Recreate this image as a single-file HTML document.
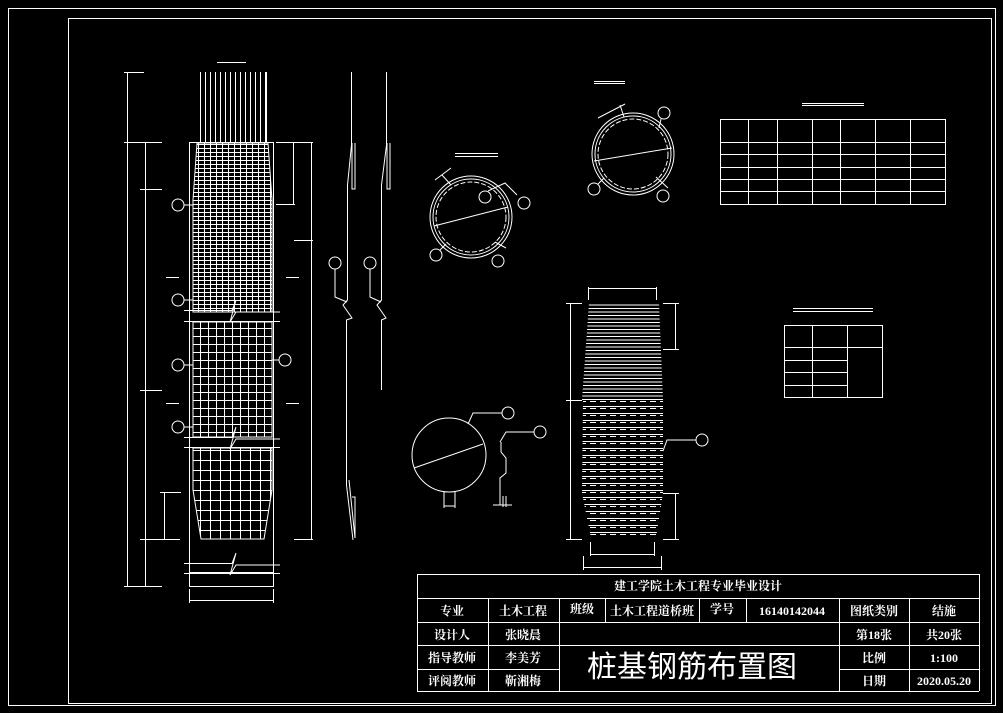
<!DOCTYPE html>
<html><head><meta charset="utf-8"><style>
html,body{margin:0;padding:0;background:#000;}
svg{display:block}
text{font-family:"Liberation Serif","Noto Serif CJK SC","WenQuanYi Zen Hei",serif;fill:#fff;font-weight:bold}
</style></head><body>
<svg width="1003" height="713" viewBox="0 0 1003 713" xmlns="http://www.w3.org/2000/svg">
<defs>
<pattern id="gTop" x="0" y="0" width="6" height="4" patternUnits="userSpaceOnUse">
<path d="M0.5 0V4M0 0.5H6" stroke="#fff" stroke-width="1"/></pattern>
<pattern id="gMid" x="0" y="0" width="8" height="8" patternUnits="userSpaceOnUse">
<path d="M0.5 0V8M0 0.5H8" stroke="#fff" stroke-width="1"/></pattern>
<pattern id="gLow" x="0" y="0" width="10" height="10" patternUnits="userSpaceOnUse">
<path d="M0.5 0V10M0 0.5H10" stroke="#fff" stroke-width="1"/></pattern>
<pattern id="sTop" x="0" y="0" width="10" height="3.5" patternUnits="userSpaceOnUse">
<path d="M0 0.5H10" stroke="#fff" stroke-width="1"/></pattern>
<pattern id="sLow" x="0" y="0" width="10" height="7" patternUnits="userSpaceOnUse">
<path d="M0 0.5H10M0 2.5H6" stroke="#fff" stroke-width="1"/></pattern>
<pattern id="vStr" x="0" y="0" width="5" height="10" patternUnits="userSpaceOnUse">
<path d="M0.5 0V10" stroke="#fff" stroke-width="1"/></pattern>
</defs>
<g fill="none" stroke="#fff" stroke-width="1">
<rect x="8.5" y="8.5" width="987" height="697"/>
<rect x="68.5" y="18.5" width="923" height="685"/>

<line x1="217" y1="62.5" x2="246" y2="62.5"/>
<rect x="198" y="72" width="69" height="71" fill="url(#vStr)" stroke="none"/>
<line x1="266.5" y1="72" x2="266.5" y2="143"/>
<rect x="189.5" y="142.5" width="84" height="430"/>
<polygon points="197,143 268,143 272,200 272,312 193,312 193,200" fill="url(#gTop)" stroke="#fff"/>
<polygon points="193,322 272,322 272,437 193,437" fill="url(#gMid)" stroke="#fff"/>
<polygon points="193,448 272,448 272,490 264,539 201,539 193,490" fill="url(#gLow)" stroke="#fff"/>
<path d="M184 310.5H232L236 300L230 322L236 312H280M184 321.5H280"/>
<path d="M184 437.5H232L236 427L230 449L236 439H280M184 447.5H280"/>
<path d="M184 563.5H232L236 553L230 575L236 565H280M184 573.5H280"/>
<rect x="189.5" y="573.5" width="84" height="13"/>
<path d="M189.5 589V603M273.5 589V603M189 600.5H274"/>
<path d="M127.5 72V586M145.5 142V586M124 72.5H144M124 142.5H162M140 189.5H162M140 390.5H162M140 539.5H180M124 586.5H162"/>
<path d="M166 277.5H179M166 403.5H179M286 277.5H299M286 403.5H299"/>
<path d="M164.5 492V539M160 492.5H181"/>
<path d="M276 142.5H313M293.5 142V204M276 204.5H295M311.5 142V540M294 240.5H313M294 539.5H313"/>
<circle cx="178" cy="205" r="6"/><line x1="184" y1="205" x2="193" y2="205"/>
<circle cx="178" cy="300" r="6"/><line x1="184" y1="300" x2="193" y2="300"/>
<circle cx="178" cy="365" r="6"/><line x1="184" y1="365" x2="193" y2="365"/>
<circle cx="285" cy="360" r="6"/><line x1="272" y1="360" x2="279" y2="360"/>
<circle cx="178" cy="427" r="6"/><line x1="184" y1="427" x2="193" y2="427"/>

<path d="M351.5 72V145L347.5 185V300L343 305L352 318L346.5 320V485L353 540"/>
<path d="M355 143V189H352V143"/>
<path d="M349 480L355 538V497H352"/>
<path d="M386.5 72V145L381.5 185V300L377 305L386 318L381.5 320V390"/>
<path d="M390 143V189H387V143"/>
<circle cx="335" cy="263" r="6"/><path d="M335 269V297L347 302"/>
<circle cx="370" cy="263" r="6"/><path d="M370 269V297L381 302"/>

<path d="M455 153.5H498M455 156.5H498"/>
<circle cx="471" cy="217" r="41"/><circle cx="471" cy="217" r="38"/><circle cx="471" cy="217" r="35" stroke-dasharray="5 2"/>
<line x1="434" y1="226" x2="508" y2="207"/>
<path d="M435 180L451 168M442 175L451 185"/>
<circle cx="485" cy="197" r="6"/><path d="M488 191L505 183L517 195"/><circle cx="524" cy="203" r="6"/>
<circle cx="436" cy="255" r="6"/><line x1="440" y1="250" x2="446" y2="244"/>
<circle cx="498" cy="261" r="6"/><path d="M495 242L506 248"/>

<path d="M594 81.5H625M594 83.5H625"/>
<circle cx="633" cy="154" r="41"/><circle cx="633" cy="154" r="38"/><circle cx="633" cy="154" r="35" stroke-dasharray="5 2"/>
<line x1="594" y1="161" x2="672" y2="148"/>
<path d="M598 118L625 104M620 105L624 117"/>
<circle cx="664" cy="113" r="6"/><line x1="661" y1="119" x2="659" y2="128"/>
<circle cx="594" cy="189" r="6"/><line x1="598" y1="184" x2="604" y2="178"/>
<circle cx="663" cy="196" r="6"/><path d="M656 177L668 188"/>

<circle cx="449" cy="455" r="37"/>
<line x1="414" y1="468" x2="483" y2="444"/>
<path d="M468 424L473 413H502"/><circle cx="508" cy="413" r="6"/>
<path d="M444 492V508M455 492V508M444 506H455"/>
<path d="M500 442L506 432H534"/><circle cx="540" cy="432" r="6"/>
<path d="M501 442V452L506 458V473L500 478V505M493 505H512M503 496V507M506 496V507"/>

<path d="M588.5 287V300M656.5 287V300M588 288.5H657"/>
<polygon points="589,303 659,303 663,400 582,400" fill="url(#sTop)" stroke="none"/>
<polygon points="583,400 663,400 663,493 656,538 591,538 582,493" fill="url(#sLow)" stroke="none"/>
<path d="M570.5 303V540M566 303.5H582M566 400.5H582M566 539.5H582"/>
<path d="M663 303.5H679M675.5 303V349M663 349.5H679M663 493.5H679M675.5 493V540M663 539.5H679"/>
<path d="M590.5 542V556M654.5 542V556M590 554.5H655M583.5 556V570M661.5 556V570M583 567.5H662"/>
<path d="M663 451L667 440H696"/><circle cx="702" cy="440" r="6"/>

<path d="M802 103.5H864M802 105.5H864"/>
<rect x="720.5" y="119.5" width="225" height="85"/>
<path d="M748.5 119V204M777.5 119V204M812.5 119V204M840.5 119V204M875.5 119V204M910.5 119V204"/>
<path d="M720 142.5H946M720 154.5H946M720 167.5H946M720 179.5H946M720 191.5H946"/>
<path d="M793 308.5H873M793 311.5H873"/>
<rect x="784.5" y="325.5" width="98" height="72"/>
<path d="M812.5 325V397M847.5 325V397M784 347.5H883M784 360.5H847M784 372.5H847M784 385.5H847"/>

<path d="M417.5 574V691"/>
<path d="M417 574.5H979M417 598.5H979M417 622.5H979M417 645.5H559M839 645.5H979M417 669.5H559M839 669.5H979M417 691.5H979"/>
<path d="M488.5 598V691M559.5 598V691M605.5 598V622M699.5 598V622M746.5 598V622M839.5 598V691M909.5 598V691"/>
<path d="M559 645.5H839"/>
<line x1="979.5" y1="574" x2="979.5" y2="691"/>
</g>
<g font-size="12" text-anchor="middle">
<text x="698" y="590">建工学院土木工程专业毕业设计</text>
<text x="452" y="615">专业</text>
<text x="523" y="615">土木工程</text>
<text x="582" y="613">班级</text>
<text x="652" y="615">土木工程道桥班</text>
<text x="722" y="613">学号</text>
<text x="792" y="615">16140142044</text>
<text x="874" y="615">图纸类别</text>
<text x="944" y="615">结施</text>
<text x="452" y="639">设计人</text>
<text x="523" y="639">张晓晨</text>
<text x="874" y="639">第18张</text>
<text x="944" y="639">共20张</text>
<text x="452" y="662">指导教师</text>
<text x="523" y="662">李美芳</text>
<text x="874" y="662">比例</text>
<text x="944" y="662">1:100</text>
<text x="452" y="685">评阅教师</text>
<text x="523" y="685">靳湘梅</text>
<text x="874" y="685">日期</text>
<text x="944" y="685">2020.05.20</text>
<text x="692" y="677" font-size="30" style="font-weight:normal;font-family:'Noto Sans CJK SC',sans-serif">桩基钢筋布置图</text>
</g>
</svg>
</body></html>
